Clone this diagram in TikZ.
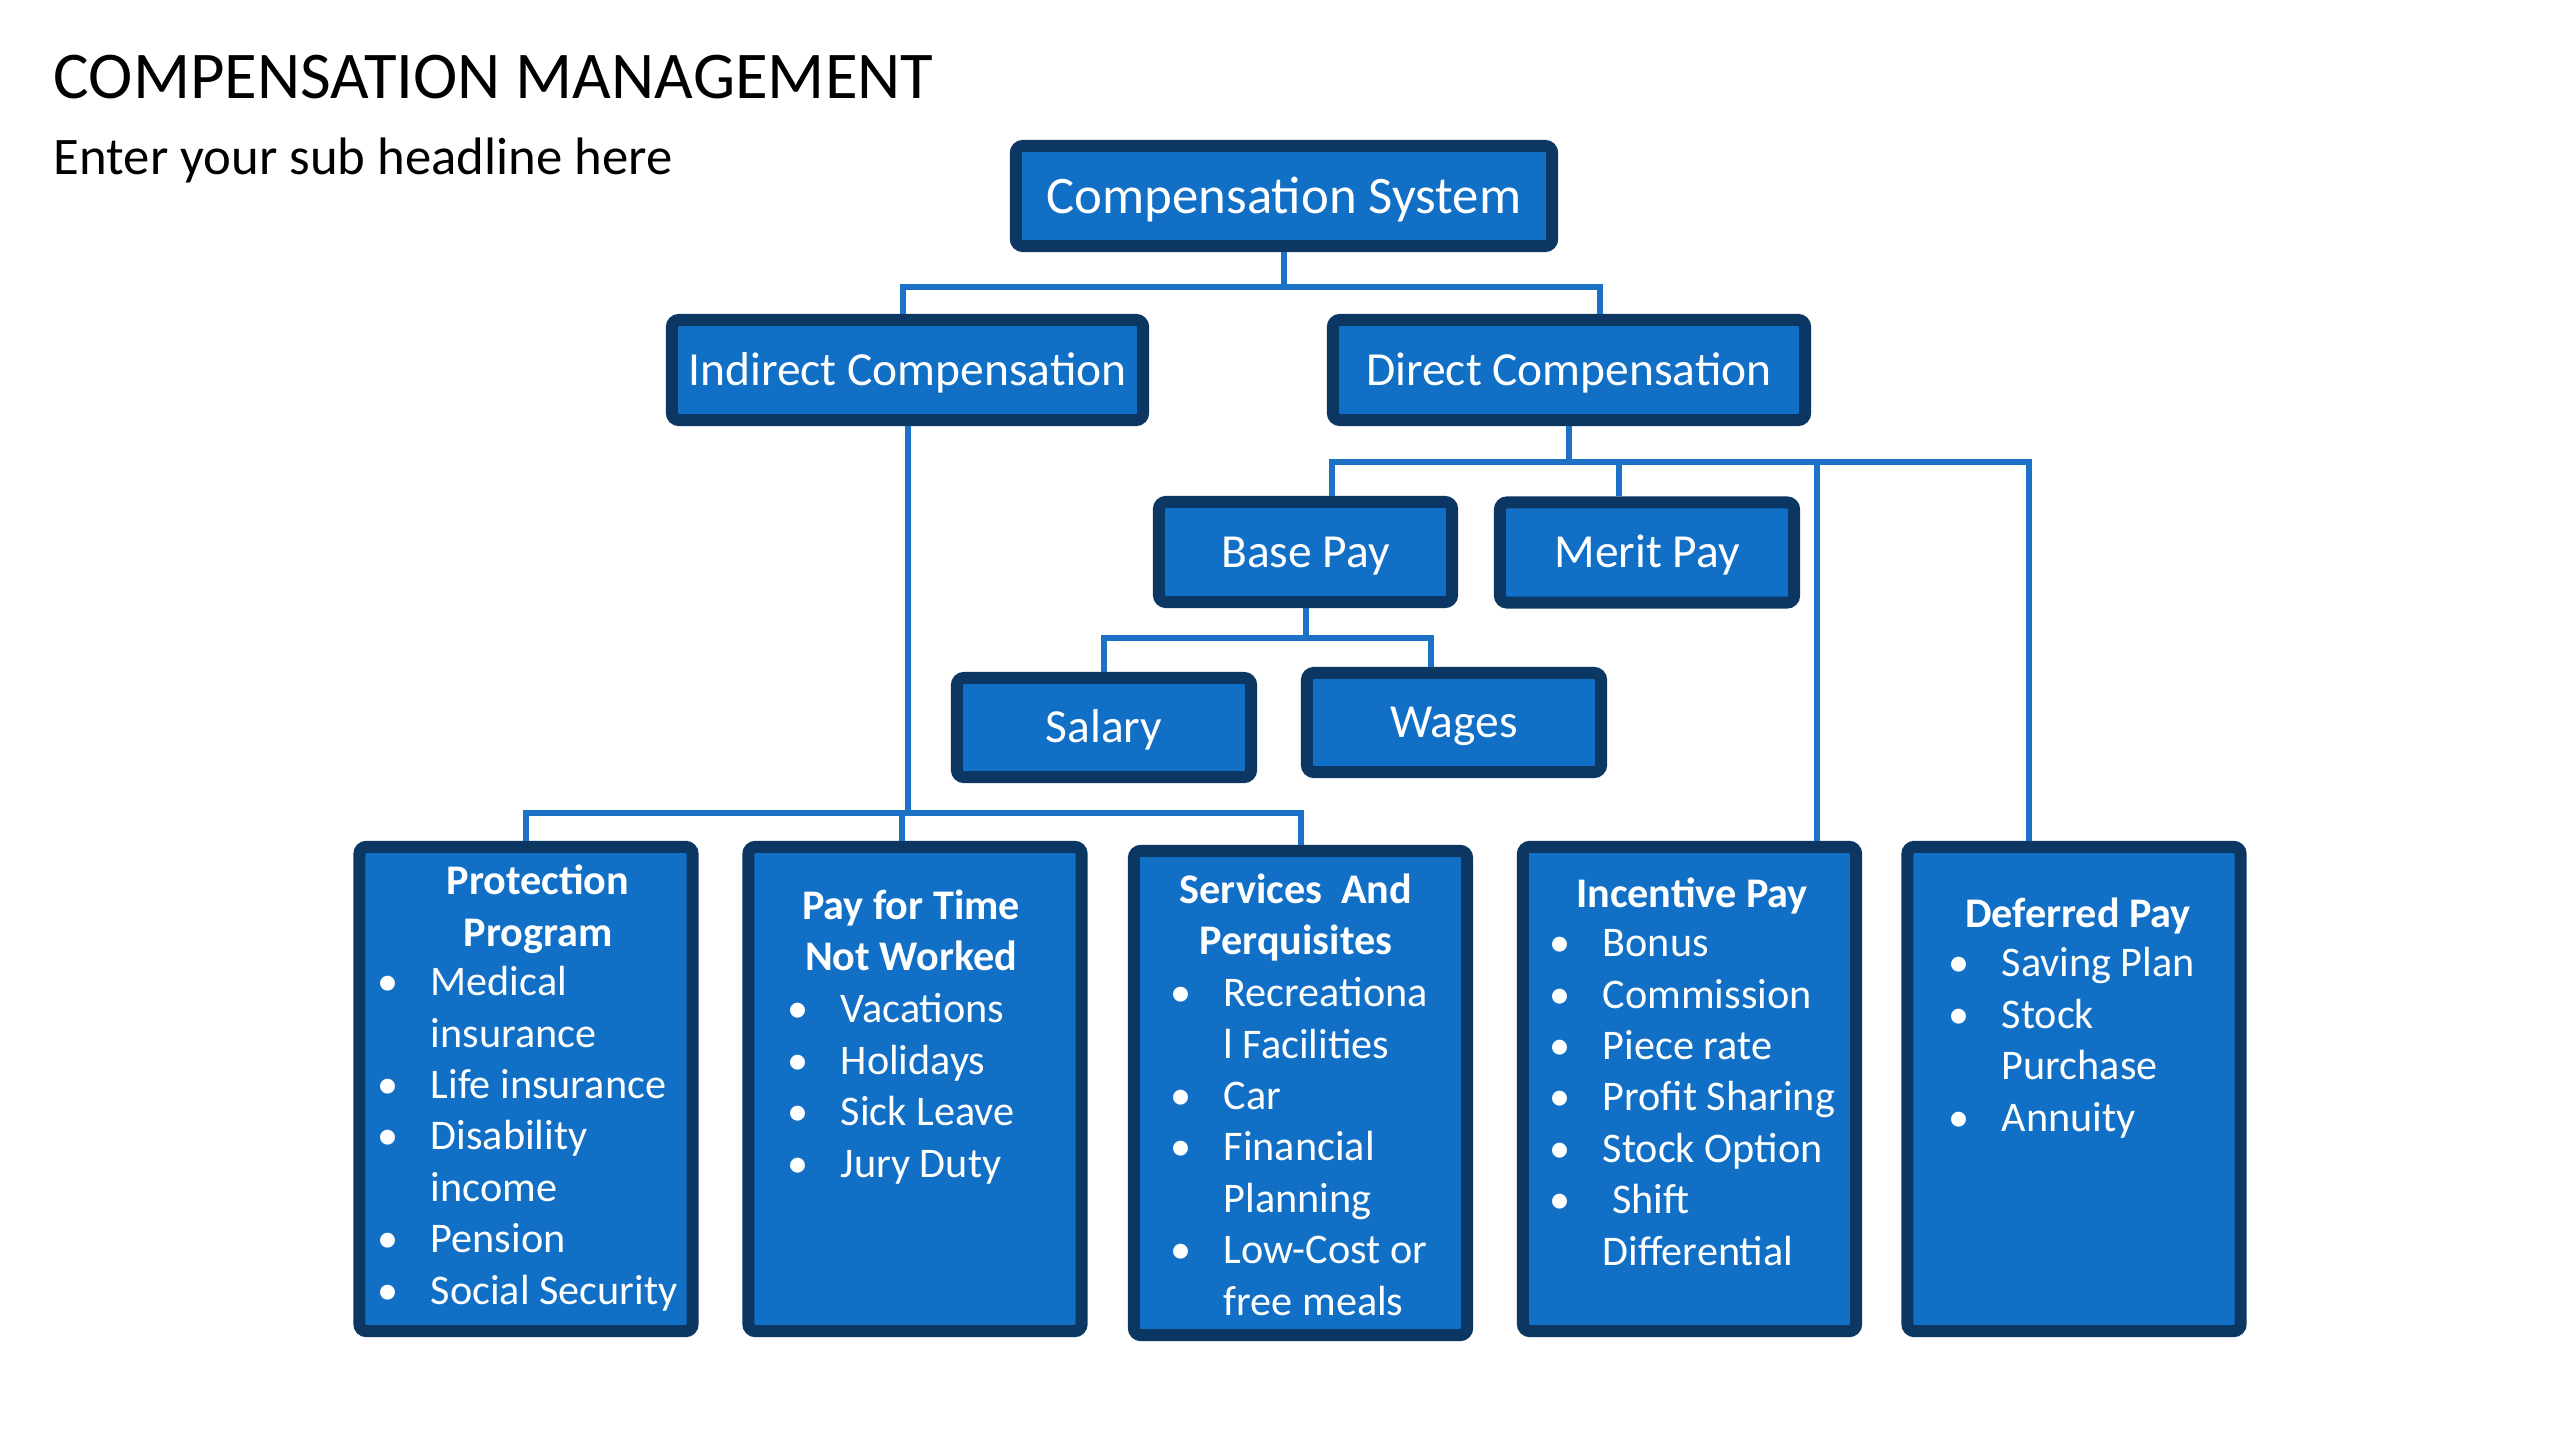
\documentclass[tikz,border=0pt]{standalone}
\usepackage{fontspec}
\setmainfont{Carlito}
\usepackage{xcolor}
\definecolor{navy}{HTML}{0C3763}
\definecolor{boxblue}{HTML}{1170C6}
\definecolor{lineblue}{HTML}{1C72C6}
\newcommand{\itemdot}{\makebox[0.53cm][l]{\textbullet}}
\newcommand{\itemgap}{\hspace*{0.53cm}}
\tikzstyle{topbox} = [rectangle, rounded corners=2pt, draw=navy, fill=boxblue, line width=0.12cm, text=white, inner sep=0pt, minimum height=1cm, font=\fontsize{13.5}{16}\selectfont, text height=8.7pt, text depth=0pt]
\tikzstyle{group} = [rectangle, rounded corners=2pt, draw=navy, fill=boxblue, line width=0.12cm, minimum width=3.33cm, minimum height=4.84cm]
\tikzstyle{head} = [text=white, inner sep=0pt, anchor=base, align=center, font=\fontsize{12}{14.6}\selectfont\bfseries]
\tikzstyle{items} = [text=white, inner sep=0pt, anchor=base west, align=left, font=\fontsize{12}{14.6}\selectfont]
\tikzstyle{link} = [draw=lineblue, line width=0.06cm]

\begin{document}
\begin{tikzpicture}[x=0.01cm, y=-0.01cm]
      \useasboundingbox (0,0) rectangle (2560,1440);
      \fill [white] (0,0) rectangle (2560,1440);

      \node (title) [anchor=base west, inner sep=0pt, font=\fontsize{19}{23}\selectfont] at (53,99) {COMPENSATION MANAGEMENT};
      \node (subtitle) [anchor=base west, inner sep=0pt, font=\fontsize{15}{18}\selectfont] at (53,175) {Enter your sub headline here};

      \node (cs) [topbox, minimum width=5.36cm, font=\fontsize{15}{18}\selectfont, text height=9.7pt] at (1284,196) {Compensation System};
      \node (ic) [topbox, minimum width=4.71cm] at (907.5,370) {Indirect Compensation};
      \node (dc) [topbox, minimum width=4.72cm] at (1569,370) {Direct Compensation};
      \node (bp) [topbox, minimum width=2.93cm] at (1305.5,552) {Base Pay};
      \node (mp) [topbox, minimum width=2.94cm] at (1647,552.5) {Merit Pay};
      \node (sa) [topbox, minimum width=2.94cm, minimum height=0.99cm] at (1104,727.5) {Salary};
      \node (wa) [topbox, minimum width=2.94cm, minimum height=0.99cm] at (1454,722.5) {Wages};

      \node (pp) [group] at (526,1089) {};
      \node (pt) [group] at (915,1089) {};
      \node (sv) [group] at (1300.5,1093) {};
      \node (ip) [group] at (1689.5,1089) {};
      \node (dp) [group] at (2074,1089) {};

      \draw [link] (cs.south) -- ++(0,35) -| ([xshift=-0.05cm]ic.north);
      \draw [link] (cs.south) -- ++(0,35) -| ([xshift=0.31cm]dc.north);
      \draw [link] (dc.south) -- ++(0,36) -| ([xshift=0.26cm]bp.north);
      \draw [link] (dc.south) -- ++(0,36) -| ([xshift=-0.28cm]mp.north);
      \draw [link] (dc.south) -- ++(0,36) -| ([xshift=1.27cm]ip.north);
      \draw [link] (dc.south) -- ++(0,36) -| ([xshift=-0.45cm]dp.north);
      \draw [link] (bp.south) -- ++(0,30) -| (sa.north);
      \draw [link] (bp.south) -- ++(0,30) -| ([xshift=-0.23cm]wa.north);
      \draw [link] (ic.south) -- ++(0,387) -| (pp.north);
      \draw [link] (ic.south) -- ++(0,387) -| ([xshift=-0.13cm]pt.north);
      \draw [link] (ic.south) -- ++(0,387) -| (sv.north);

      % lists sit on the baseline of their last line
      \node (pp-head) [head] at (538,946) {Protection\\Program};
      \node (pp-list) [items] at (377,1304) {\itemdot Medical\\\itemgap insurance\\\itemdot Life insurance\\\itemdot Disability\\\itemgap income\\\itemdot Pension\\\itemdot Social Security};
      \node (pt-head) [head] at (911,971) {Pay for Time\\Not Worked};
      \node (pt-list) [items] at (787,1177) {\itemdot Vacations\\\itemdot Holidays\\\itemdot Sick Leave\\\itemdot Jury Duty};
      \node (sv-head) [head] at (1296,955) {Services~~And\\Perquisites};
      \node (sv-list) [items] at (1170,1315) {\itemdot Recreationa\\\itemgap l Facilities\\\itemdot Car\\\itemdot Financial\\\itemgap Planning\\\itemdot Low-Cost or\\\itemgap free meals};
      \node (ip-head) [head] at (1692,907) {Incentive Pay};
      \node (ip-list) [items] at (1549,1265) {\itemdot Bonus\\\itemdot Commission\\\itemdot Piece rate\\\itemdot Profit Sharing\\\itemdot Stock Option\\\itemdot\ Shift\\\itemgap Differential};
      \node (dp-head) [head] at (2078,927) {Deferred Pay};
      \node (dp-list) [items] at (1948,1131) {\itemdot Saving Plan\\\itemdot Stock\\\itemgap Purchase\\\itemdot Annuity};
    \end{tikzpicture}
\end{document}
